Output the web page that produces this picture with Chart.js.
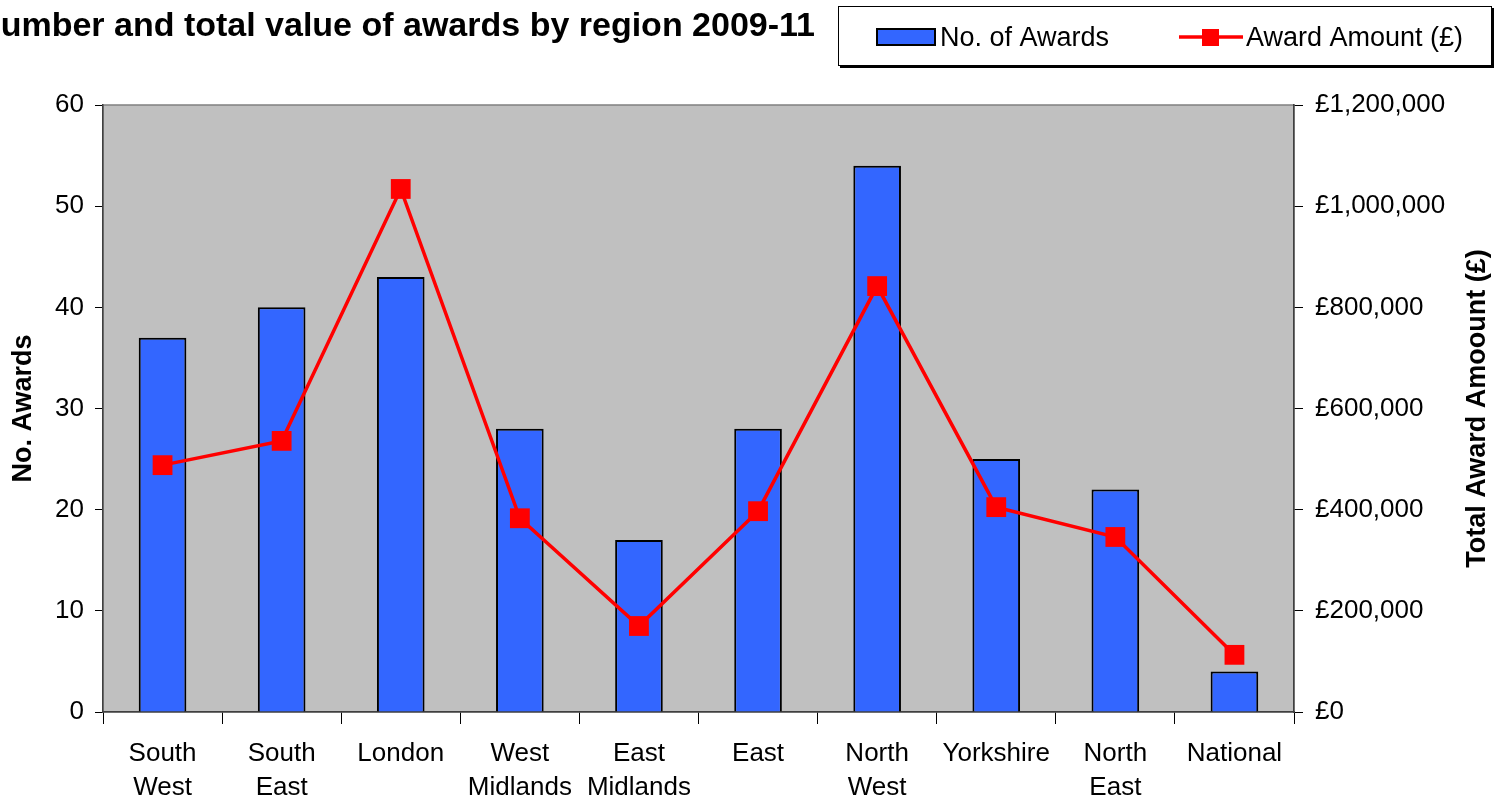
<!DOCTYPE html>
<html>
<head>
<meta charset="utf-8">
<script src="https://cdn.jsdelivr.net/npm/chart.js@4/dist/chart.umd.min.js"></script>
<style>
html,body{margin:0;padding:0;background:#fff;}
#wrap{position:relative;width:1495px;height:801px;}
</style>
</head>
<body>
<div id="wrap"><canvas id="c" width="1495" height="801"></canvas></div>
<script>
const categories = [["South","West"],["South","East"],"London",["West","Midlands"],["East","Midlands"],"East",["North","West"],"Yorkshire",["North","East"],"National"];
const awardCounts = [37, 40, 43, 28, 17, 28, 54, 25, 22, 4];
const awardAmounts = [488000, 536000, 1034000, 383000, 170000, 397000, 842000, 405000, 346000, 113000];
const titleText = "Number and total value of awards by region 2009-11";
const leftAxisTitle = "No. Awards";
const rightAxisTitle = "Total Award Amoount (£)";
const seriesLabels = ["No. of Awards", "Award Amount (£)"];

const FONT = "'Liberation Sans', Arial, sans-serif";

const decorPlugin = {
  id: 'decor',
  beforeDraw(chart) {
    const ctx = chart.ctx, a = chart.chartArea;
    ctx.save();
    ctx.fillStyle = '#fff';
    ctx.fillRect(0, 0, chart.width, chart.height);
    ctx.fillStyle = '#C0C0C0';
    ctx.fillRect(a.left, a.top, a.right - a.left, a.bottom - a.top);
    ctx.strokeStyle = '#808080';
    ctx.lineWidth = 1.5;
    ctx.strokeRect(a.left, a.top, a.right - a.left, a.bottom - a.top);
    ctx.restore();
  },
  afterDraw(chart) {
    const ctx = chart.ctx, a = chart.chartArea;
    ctx.save();
    // title
    ctx.fillStyle = '#000';
    ctx.font = "bold 34px " + FONT;
    ctx.textAlign = 'right';
    ctx.textBaseline = 'alphabetic';
    ctx.fillText(titleText, 815, 36);
    // axis titles
    ctx.font = "bold 27px " + FONT;
    ctx.textAlign = 'center';
    ctx.textBaseline = 'middle';
    ctx.save();
    ctx.translate(24, (a.top + a.bottom) / 2);
    ctx.rotate(-Math.PI / 2);
    ctx.fillText(leftAxisTitle, 0, 0);
    ctx.restore();
    ctx.save();
    ctx.translate(1478, (a.top + a.bottom) / 2);
    ctx.rotate(-Math.PI / 2);
    ctx.fillText(rightAxisTitle, 0, 0);
    ctx.restore();
    // legend box
    ctx.fillStyle = '#000';
    ctx.fillRect(840, 66, 654, 2);
    ctx.fillRect(1492, 8, 2, 60);
    ctx.strokeStyle = '#000';
    ctx.lineWidth = 1;
    ctx.fillStyle = '#fff';
    ctx.fillRect(838.5, 6.5, 653, 59);
    ctx.strokeRect(838.5, 6.5, 653, 59);
    // bar swatch
    ctx.fillStyle = '#3366FF';
    ctx.fillRect(877, 29, 58, 16);
    ctx.lineWidth = 2;
    ctx.strokeStyle = '#000';
    ctx.strokeRect(877, 29, 58, 16);
    ctx.font = "27px " + FONT;
    ctx.textAlign = 'left';
    ctx.textBaseline = 'middle';
    ctx.fillStyle = '#000';
    ctx.fillText(seriesLabels[0], 940, 39);
    // line swatch
    ctx.strokeStyle = '#FF0000';
    ctx.lineWidth = 3.5;
    ctx.beginPath();
    ctx.moveTo(1179, 37);
    ctx.lineTo(1243, 37);
    ctx.stroke();
    ctx.fillStyle = '#FF0000';
    ctx.fillRect(1202, 29, 17, 17);
    ctx.fillStyle = '#000';
    ctx.fillText(seriesLabels[1], 1246, 39);
    ctx.restore();
  }
};

const ctx = document.getElementById('c').getContext('2d');
new Chart(ctx, {
  data: {
    labels: categories,
    datasets: [
      {
        type: 'line',
        label: seriesLabels[1],
        data: awardAmounts,
        yAxisID: 'y1',
        borderColor: '#FF0000',
        backgroundColor: '#FF0000',
        borderWidth: 3.5,
        pointStyle: 'rect',
        pointRadius: 14,
        pointBorderWidth: 0,
        pointBackgroundColor: '#FF0000',
        tension: 0,
        order: 0
      },
      {
        type: 'bar',
        label: seriesLabels[0],
        data: awardCounts,
        yAxisID: 'y',
        backgroundColor: '#3366FF',
        borderColor: '#000000',
        borderWidth: 2,
        barPercentage: 0.4,
        categoryPercentage: 1.0,
        order: 1
      }
    ]
  },
  options: {
    responsive: false,
    animation: false,
    layout: { padding: { top: 105, left: 0, right: 0, bottom: 0 } },
    plugins: {
      legend: { display: false },
      title: { display: false },
      tooltip: { enabled: false }
    },
    scales: {
      x: {
        offset: true,
        grid: { display: true, offset: true, drawOnChartArea: false, tickLength: 12, color: '#000', lineWidth: 1 },
        border: { display: true, color: '#404040', width: 1.5 },
        ticks: { color: '#000', font: { family: FONT, size: 26, lineHeight: 1.3 }, maxRotation: 0, autoSkip: false, padding: 13 },
        afterFit(s) { s.height = 89; }
      },
      y: {
        position: 'left',
        min: 0, max: 60,
        ticks: { stepSize: 10, color: '#000', font: { family: FONT, size: 26 }, padding: 11 },
        grid: { drawOnChartArea: false, tickLength: 8, color: '#000' },
        border: { display: true, color: '#404040', width: 1.5 },
        afterFit(s) { s.width = 103; }
      },
      y1: {
        position: 'right',
        min: 0, max: 1200000,
        ticks: {
          stepSize: 200000, color: '#000', font: { family: FONT, size: 26 }, padding: 12,
          callback(v) { return '£' + Number(v).toLocaleString('en-GB'); }
        },
        grid: { drawOnChartArea: false, tickLength: 9, color: '#000' },
        border: { display: true, color: '#404040', width: 1.5 },
        afterFit(s) { s.width = 201; }
      }
    }
  },
  plugins: [decorPlugin]
});
</script>
</body>
</html>
